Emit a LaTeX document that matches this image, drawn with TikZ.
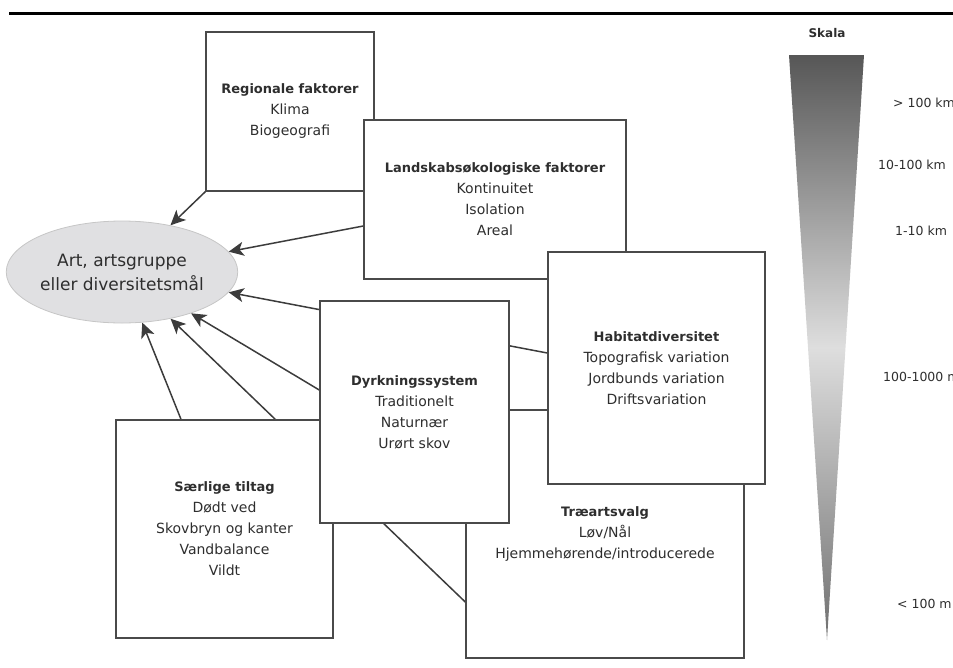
\documentclass[tikz,border=0pt]{standalone}
\usepackage{fontspec}
\setmainfont{DejaVu Sans}
\usetikzlibrary{arrows.meta,backgrounds,shapes.geometric}

\definecolor{kant}{HTML}{4A4A4A}
\definecolor{pilfarve}{HTML}{3C3C3C}
\definecolor{tekst}{HTML}{2E2E2E}
\definecolor{artfill}{HTML}{E0E0E2}
\newcommand{\titel}[1]{{\fontsize{13}{21}\selectfont\bfseries #1}}

\begin{document}
\begin{tikzpicture}[x=1pt,y=-1pt,
        faktor/.style={draw=kant, line width=1.4pt, fill=white, text=tekst, align=center, inner sep=0pt, font=\fontsize{14}{21}\selectfont},
        pil/.style={draw=pilfarve, line width=1.5pt, -{Stealth[length=15pt,width=14pt,inset=4pt]}},
        linje/.style={draw=pilfarve, line width=1.5pt},
        skala/.style={anchor=west, inner sep=0pt, text=tekst, font=\fontsize{12.5}{15}\selectfont}]
        \useasboundingbox (0,0) rectangle (953,667);
        \clip (0,0) rectangle (953,667);
        \draw [black, line width=3pt] (9,13) -- (953,13);
        \node [ellipse, draw=gray!45, line width=0.8pt, fill=artfill, text=tekst, minimum width=220pt, minimum height=102pt, inner sep=0pt, align=center, font=\fontsize{17}{24}\selectfont] (art) at (122,272) {Art, artsgruppe\\eller diversitetsmål};
        \node [faktor, minimum width=168pt, minimum height=159pt] (regional) at (290,111.5) {\titel{Regionale faktorer}\\Klima\\Biogeografi};
        \node [faktor, minimum width=262pt, minimum height=159pt] (landskab) at (495,199.5) {\titel{Landskabsøkologiske faktorer}\\Kontinuitet\\Isolation\\Areal};
        \node [faktor, minimum width=217pt, minimum height=218pt] (saerlig) at (224.5,529) {\titel{Særlige tiltag}\\Dødt ved\\Skovbryn og kanter\\Vandbalance\\Vildt};
        \node [faktor, minimum width=278pt, minimum height=248pt] (traeart) at (605,534) {\titel{Træartsvalg}\\Løv/Nål\\Hjemmehørende/introducerede};
        \node [faktor, minimum width=217pt, minimum height=232pt] (habitat) at (656.5,368) {\titel{Habitatdiversitet}\\Topografisk variation\\Jordbunds variation\\Driftsvariation};
        \node [faktor, minimum width=189pt, minimum height=222pt] (dyrkning) at (414.5,412) {\titel{Dyrkningssystem}\\Traditionelt\\Naturnær\\Urørt skov};
        \begin{scope}[on background layer]
        \draw [pil] (regional.south west) -- (art);
        \draw [pil] ([yshift=-26.5pt]landskab.west) -- (art);
        \draw [pil] ([yshift=15pt]habitat.west) -- (art);
        \draw [pil] ([yshift=22pt]dyrkning.west) -- (art);
        \draw [pil] ([yshift=-68pt]traeart.west) -- (art);
        \draw [pil] ([xshift=-43.5pt]saerlig.north) -- (art);
        \draw [linje] ([yshift=-60pt]habitat.west) -- ([yshift=-16pt]dyrkning.east);
        \end{scope}
        \shade [top color=black!66, bottom color=black!56, middle color=black!13] (789,55) -- (864,55) -- (827,640) -- cycle;
        \node [text=tekst, font=\fontsize{12}{14}\selectfont\bfseries] (skalanavn) at (827,33) {Skala};
        \node [skala] (s1) at (893,103) {> 100 km};
        \node [skala] (s2) at (878,165) {10-100 km};
        \node [skala] (s3) at (895,231) {1-10 km};
        \node [skala] (s4) at (883,377) {100-1000 m};
        \node [skala] (s5) at (897,604) {< 100 m};
\end{tikzpicture}
\end{document}
